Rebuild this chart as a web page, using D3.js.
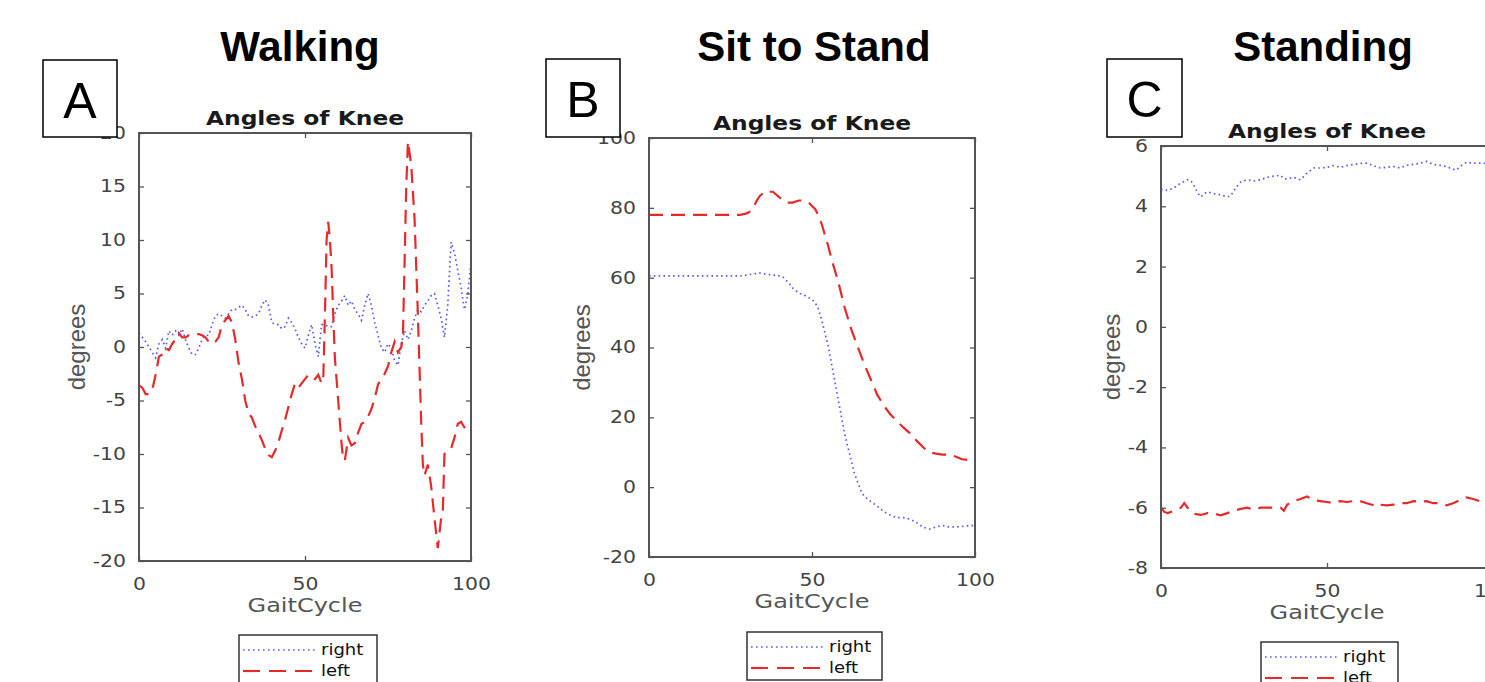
<!DOCTYPE html>
<html>
<head>
<meta charset="utf-8">
<script src="https://cdn.jsdelivr.net/npm/d3@7"></script>
<style>
  html, body { margin: 0; padding: 0; background: #fff; overflow: hidden; }
  svg { display: block; }
</style>
</head>
<body>
<svg id="chart" width="1485" height="682"></svg>
<script>
// ---------------- DATA ----------------
const panelTitles = ["Walking", "Sit to Stand", "Standing"];
const panelLetters = ["A", "B", "C"];
const subTitle = "Angles of Knee";
const xLabel = "GaitCycle";
const yLabel = "degrees";
const seriesNames = ["right", "left"];
const xTicks = [0, 50, 100];
const walkYTicks = [-20, -15, -10, -5, 0, 5, 10, 15, 20];
const sitYTicks = [-20, 0, 20, 40, 60, 80, 100];
const standYTicks = [-8, -6, -4, -2, 0, 2, 4, 6];

// Walking (A)
const walkRightX = [0,1,2,3,4,5,6,7,8,9,10,11,12,13,14,15,16,17,18,19,20,21,22,23,24,25,26,27,28,29,30,31,32,33,34,35,36,37,38,39,40,41,42,43,44,45,46,47,48,49,50,51,52,53,54,55,56,57,58,59,60,61,62,63,64,65,66,67,68,69,70,71,72,73,74,75,76,77,78,79,80,81,82,83,84,85,86,87,88,89,90,91,92,93,94,95,96,97,98,99,100];
const walkRight = [1.3,0.9,0.5,0,-0.5,-1,0.3,0.7,-0.1,1.5,1.1,1.5,1.1,1.7,0.7,-0.1,-0.7,-0.7,-0.1,0.7,1.1,1.1,2.1,2.9,3.1,2.9,2.7,3.1,3.5,3.5,3.7,3.9,3.5,2.9,2.8,2.9,3.1,3.9,4.4,3.9,2.3,2.1,2.1,1.7,1.9,2.7,2.3,1.7,0.9,0.3,-0.1,1.1,2.1,0.3,-0.9,2.1,2.1,1.9,1.9,3.1,3.9,4.3,4.8,3.9,4.3,3.5,3.1,2.5,3.9,5.0,3.9,2.3,1.1,-0.1,-0.5,0.3,-0.1,-1.3,-1.7,0.3,1.5,0.7,1.5,2.7,3.5,3.3,3.9,4.3,4.8,5.0,3.9,2.7,0.9,3.9,9.8,8.8,7.2,5.6,3.5,4.8,8.0];
const walkLeftX = [0,1,2,3,4,5,6,7,8,9,10,11,12,13,14,15,16,17,18,19,20,21,22,23,24,25,26,27,28,29,30,31,32,33,34,35,36,37,38,39,40,41,42,43,44,45,46,47,48,49,50,51,52,53,54,55,55.5,56,56.5,57,57.5,58,58.5,59,60,61,61.5,62,63,64,65,66,67,68,69,70,71,72,73,74,75,76,77,78,79,79.5,80,80.5,81,82,83,84,85,85.5,86,87,88,89,90,91,91.5,92,93,94,95,96,97,98,99,100];
const walkLeft = [-3.6,-3.8,-4.4,-4.4,-4.0,-2.6,-0.9,-0.7,-0.1,-0.3,0.3,0.7,1.3,0.9,0.9,1.1,1.1,1.2,1.2,1.1,0.9,0.5,0.3,0.5,0.9,2.1,2.5,2.9,2.3,0.7,-1.5,-3.0,-5.0,-6.2,-6.6,-7.4,-8.0,-8.7,-9.5,-10.1,-10.3,-9.7,-8.9,-7.8,-6.8,-5.6,-4.4,-3.4,-3.8,-3.4,-3.0,-2.6,-2.8,-3.0,-2.6,-3.4,-3,3,10,11.7,10,7.5,3,-1,-5,-9,-10.5,-10.6,-8.5,-9.2,-9,-8,-7.2,-7,-6.5,-5.8,-4.8,-3.5,-3,-2.5,-1.8,-0.5,0.5,-0.5,0,1,8,15,19.2,17,12,3,-7,-11,-12,-11,-13,-16,-18.8,-16,-15.5,-10,-9.8,-9.5,-8.5,-7.2,-7,-7.5,-8,-8];

// Sit to Stand (B)
const sitRightX = [0,10,20,28,30,32,34,36,38,40,41,42,43,44,45,46,48,50,51,52,53,54,55,56,57,58,59,60,61,62,63,64,65,66,68,70,72,74,76,78,80,82,84,86,88,90,92,94,96,98,100];
const sitRight = [60.5,60.5,60.5,60.5,60.75,61.1,61.3,61,60.75,60.5,60.3,59.3,58.4,57.1,56.3,55.6,54.8,53.8,52.8,50.9,47.8,44,40.3,35.3,30.3,25.3,20.3,15.3,11.5,7.8,4,1.5,-1,-2.6,-4.1,-5.4,-7,-8,-8.75,-8.75,-9.1,-10.1,-11.4,-12,-11.4,-11,-11.4,-11.4,-11.25,-11,-11];
const sitLeftX = [0,10,20,28,30,31,32,33,34,35,36,37,38,40,42,44,46,47,48,49,50,51,52,53,54,55,56,58,60,62,64,66,68,70,72,74,76,78,80,82,84,86,88,90,92,94,96,98,100];
const sitLeft = [78,78,78,78,78.4,79,80,82,83.4,84.2,84.9,84.6,84.6,83,81.5,81.5,82.1,82.1,81.9,81.5,80.5,79.6,77.8,75.3,72.1,69,65.3,59,51.5,45.3,40.3,35.3,30.9,26.5,23.4,20.9,19,17.1,15.5,13.4,11.5,10,9.6,9.3,9.3,8.8,8,7.8,7.5];

// Standing (C)
const standRightX = [0,2,4,6,8,9,10,11,12,13,14,16,18,20,21,22,23,24,26,28,30,32,34,36,37,38,40,42,43,44,46,48,50,52,54,56,58,60,62,64,66,68,70,72,74,76,78,80,82,84,86,88,89,90,92,94,96,98,100];
const standRight = [4.57,4.52,4.62,4.77,4.88,4.85,4.67,4.45,4.31,4.42,4.48,4.42,4.38,4.31,4.35,4.52,4.67,4.81,4.88,4.84,4.88,4.96,5.0,5.03,4.91,4.91,4.96,4.88,4.99,5.1,5.27,5.27,5.29,5.35,5.29,5.35,5.39,5.42,5.43,5.35,5.27,5.29,5.32,5.27,5.36,5.39,5.43,5.49,5.39,5.36,5.32,5.23,5.2,5.32,5.46,5.43,5.43,5.42,5.45];
const standLeftX = [0,1,2,4,6,7,8,9,10,12,14,16,18,20,22,24,26,28,30,32,34,36,37,38,40,42,44,46,48,50,52,54,56,58,60,62,64,65,66,68,70,72,74,76,78,80,82,84,86,88,90,92,94,96,98,100];
const standLeft = [-5.99,-6.14,-6.18,-6.1,-6.0,-5.85,-6.0,-6.1,-6.2,-6.24,-6.18,-6.2,-6.25,-6.18,-6.1,-6.04,-6.0,-6.07,-6.0,-6.0,-6.0,-6.0,-6.1,-5.9,-5.78,-5.71,-5.63,-5.75,-5.78,-5.81,-5.85,-5.78,-5.81,-5.78,-5.78,-5.85,-5.92,-5.97,-5.9,-5.92,-5.9,-5.85,-5.85,-5.78,-5.81,-5.78,-5.85,-5.85,-5.92,-5.85,-5.75,-5.66,-5.71,-5.78,-5.78,-5.8];

// ---------------- LAYOUT ----------------
const panels = [
  { title: panelTitles[0], letter: panelLetters[0], titleX: 300, box: [43, 60, 74, 77],
    plot: { l: 139, r: 471, t: 133, b: 561 }, yDomain: [-20, 20], yTicks: walkYTicks, yLabX: 77,
    legend: { x: 239, y: 635, w: 138, h: 50 },
    right: [walkRightX, walkRight], left: [walkLeftX, walkLeft] },
  { title: panelTitles[1], letter: panelLetters[1], titleX: 814, box: [546, 59, 74, 78],
    plot: { l: 649, r: 975, t: 138, b: 557 }, yDomain: [-20, 100], yTicks: sitYTicks, yLabX: 582,
    legend: { x: 747, y: 632, w: 135, h: 48 },
    right: [sitRightX, sitRight], left: [sitLeftX, sitLeft] },
  { title: panelTitles[2], letter: panelLetters[2], titleX: 1323, box: [1107, 59, 75, 78],
    plot: { l: 1161, r: 1493, t: 146, b: 568 }, yDomain: [-8, 6], yTicks: standYTicks, yLabX: 1112,
    legend: { x: 1261, y: 642, w: 137, h: 50 },
    right: [standRightX, standRight], left: [standLeftX, standLeft] }
];

const SX = 1.2; // horizontal stretch of the exported plot image
const axisColor = "#555";
const tickTextColor = "#444";
const blue = "#5a5af2";
const red = "#e62a2a";
const blueDash = "1.6,3.2";
const redDash = "14,8";
const fmt = d => String(d);

const svg = d3.select("#chart");

function stretchTexts(sel) {
  sel.selectAll("text").each(function () {
    const t = d3.select(this);
    const x = +t.attr("x") || 0;
    t.attr("x", x / SX).attr("transform", `scale(${SX},1)`);
  });
}

panels.forEach((p, i) => {
  const g = svg.append("g");
  const P = p.plot;

  // Big title
  g.append("text")
    .attr("x", p.titleX).attr("y", 61)
    .attr("text-anchor", "middle")
    .style("font-family", "'Liberation Sans', Arial, sans-serif")
    .style("font-weight", "bold").style("font-size", "42px").attr("fill", "#000")
    .text(p.title);

  const x = d3.scaleLinear().domain([0, 100]).range([P.l, P.r]);
  const y = d3.scaleLinear().domain(p.yDomain).range([P.b, P.t]);

  const clipId = "clip" + i;
  svg.append("clipPath").attr("id", clipId)
    .append("rect").attr("x", P.l).attr("y", P.t - 2).attr("width", P.r - P.l).attr("height", P.b - P.t + 4);

  // subtitle
  g.append("g").attr("transform", `translate(${(P.l + P.r) / 2},${P.t - 8}) scale(${SX},1)`)
    .append("text").attr("text-anchor", "middle")
    .style("font-family", "'DejaVu Sans', sans-serif").style("font-weight", "bold")
    .style("font-size", "19.5px").attr("fill", "#1a1a1a").text(subTitle);

  // lines
  const line = d3.line().x(d => x(d[0])).y(d => y(d[1]));
  const lg = g.append("g").attr("clip-path", `url(#${clipId})`);
  lg.append("path").datum(p.right[0].map((v, k) => [v, p.right[1][k]]))
    .attr("d", line).attr("fill", "none").attr("stroke", blue)
    .attr("stroke-width", 1.7).attr("stroke-dasharray", blueDash);
  lg.append("path").datum(p.left[0].map((v, k) => [v, p.left[1][k]]))
    .attr("d", line).attr("fill", "none").attr("stroke", red)
    .attr("stroke-width", 2.2).attr("stroke-dasharray", redDash);

  // axes
  const styleAxis = a => {
    a.select(".domain").remove();
    a.selectAll(".tick line").attr("stroke", axisColor).attr("stroke-width", 1.3);
    a.selectAll("text").attr("fill", tickTextColor)
      .style("font-family", "'DejaVu Sans', sans-serif").style("font-size", "17px");
  };
  const axL = g.append("g").attr("transform", `translate(${P.l},0)`)
    .call(d3.axisLeft(y).tickValues(p.yTicks).tickFormat(fmt).tickSize(-5).tickPadding(13));
  styleAxis(axL); stretchTexts(axL);
  const axR = g.append("g").attr("transform", `translate(${P.r},0)`)
    .call(d3.axisRight(y).tickValues(p.yTicks).tickSize(-5).tickFormat(""));
  styleAxis(axR);
  const axB = g.append("g").attr("transform", `translate(0,${P.b})`)
    .call(d3.axisBottom(x).tickValues(xTicks).tickFormat(fmt).tickSize(-5).tickPadding(17));
  styleAxis(axB); stretchTexts(axB);
  const axT = g.append("g").attr("transform", `translate(0,${P.t})`)
    .call(d3.axisTop(x).tickValues(xTicks).tickSize(-5).tickFormat(""));
  styleAxis(axT);

  // frame
  g.append("rect").attr("x", P.l).attr("y", P.t).attr("width", P.r - P.l).attr("height", P.b - P.t)
    .attr("fill", "none").attr("stroke", axisColor).attr("stroke-width", 2);

  // x label
  g.append("g").attr("transform", `translate(${x(50)},${P.b + 51}) scale(${SX},1)`)
    .append("text").attr("text-anchor", "middle")
    .style("font-family", "'DejaVu Sans', sans-serif").style("font-size", "20px")
    .attr("fill", "#555").text(xLabel);

  // y label
  g.append("text")
    .attr("transform", `translate(${p.yLabX},${(P.t + P.b) / 2}) rotate(-90)`)
    .attr("text-anchor", "middle").attr("dy", "0.35em")
    .style("font-family", "'Liberation Sans', Arial, sans-serif").style("font-size", "24px")
    .attr("fill", "#555").text(yLabel);

  // panel letter box
  const [bx, by, bw, bh] = p.box;
  g.append("rect").attr("x", bx).attr("y", by).attr("width", bw).attr("height", bh)
    .attr("fill", "#fff").attr("stroke", "#000").attr("stroke-width", 1.5);
  g.append("text").attr("x", bx + bw / 2).attr("y", by + 58)
    .attr("text-anchor", "middle")
    .style("font-family", "'Liberation Sans', Arial, sans-serif").style("font-size", "50px")
    .attr("fill", "#000").text(p.letter);

  // legend
  const L = p.legend;
  const leg = g.append("g");
  leg.append("rect").attr("x", L.x).attr("y", L.y).attr("width", L.w).attr("height", L.h)
    .attr("fill", "#fff").attr("stroke", "#333").attr("stroke-width", 1.5);
  const rows = [
    { name: seriesNames[0], color: blue, dash: "1.6,3.4", w: 1.7 },
    { name: seriesNames[1], color: red, dash: "17,9", w: 2.2 }
  ];
  rows.forEach((r, k) => {
    const yy = L.y + 15 + k * 21;
    leg.append("line").attr("x1", L.x + 4).attr("x2", L.x + 76).attr("y1", yy).attr("y2", yy)
      .attr("stroke", r.color).attr("stroke-width", r.w).attr("stroke-dasharray", r.dash);
    leg.append("g").attr("transform", `translate(${L.x + 82},${yy + 5}) scale(${SX},1)`)
      .append("text")
      .style("font-family", "'DejaVu Sans', sans-serif").style("font-size", "15px")
      .attr("fill", "#111").text(r.name);
  });
});
</script>
</body>
</html>
